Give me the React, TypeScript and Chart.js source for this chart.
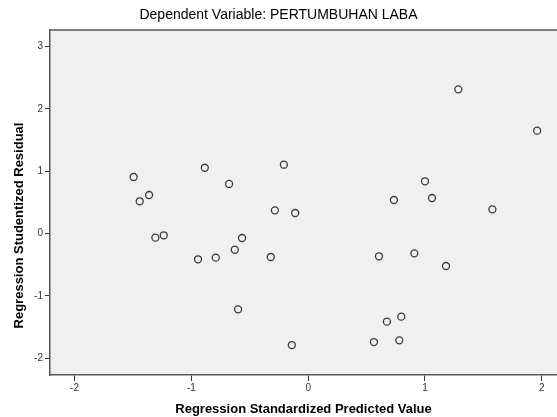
import { useEffect, useRef } from "react";
import { Chart, registerables } from "chart.js";

Chart.register(...registerables);

const chartTitle = "Dependent Variable: PERTUMBUHAN LABA";
const xAxisTitle = "Regression Standardized Predicted Value";
const yAxisTitle = "Regression Studentized Residual";

const predicted = [
  -1.494, -0.885, -0.208, -0.677, -1.362, -1.442, -0.285, -0.111, -1.308, -1.236,
  -0.566, -0.628, -0.943, -0.791, -0.32, -0.6, -0.14,
  1.285, 1.96, 1.0, 1.06, 0.734, 1.577, 0.606, 0.909, 1.18, 0.797, 0.674, 0.563, 0.78,
];
const residual = [
  0.907, 1.055, 1.104, 0.795, 0.618, 0.517, 0.372, 0.329, -0.067, -0.029,
  -0.072, -0.26, -0.414, -0.388, -0.377, -1.217, -1.79,
  2.314, 1.65, 0.838, 0.57, 0.538, 0.388, -0.366, -0.318, -0.522, -1.335, -1.415, -1.742, -1.715,
];

const xMin = -2.21;
const xMax = 2.13;
const yMin = -2.271;
const yMax = 3.266;

const FONT = "'Liberation Sans', Arial, sans-serif";

const framePlugin = {
  id: "frame",
  beforeDraw(chart: any) {
    const { ctx, chartArea } = chart;
    ctx.save();
    ctx.fillStyle = "#f0f0f0";
    ctx.fillRect(chartArea.left, chartArea.top, chartArea.right - chartArea.left, chartArea.bottom - chartArea.top);
    ctx.restore();
  },
  afterDraw(chart: any) {
    const { ctx, chartArea } = chart;
    ctx.save();
    ctx.strokeStyle = "#555";
    ctx.lineWidth = 1.5;
    ctx.beginPath();
    ctx.moveTo(chartArea.left, chartArea.top);
    ctx.lineTo(chartArea.right, chartArea.top);
    ctx.stroke();
    ctx.translate(19, (chartArea.top + chartArea.bottom) / 2 + 23);
    ctx.rotate(-Math.PI / 2);
    ctx.fillStyle = "#000";
    ctx.font = "bold 13px " + FONT;
    ctx.textAlign = "center";
    ctx.textBaseline = "middle";
    ctx.fillText(yAxisTitle, 0, 0);
    ctx.restore();
  },
};

export default function App() {
  const ref = useRef<HTMLCanvasElement>(null);
  useEffect(() => {
    if (!ref.current) return;
    const chart = new Chart(ref.current, {
      type: "scatter",
      data: {
        datasets: [
          {
            data: predicted.map((x, i) => ({ x, y: residual[i] })),
            pointRadius: 3.5,
            pointBorderWidth: 1.3,
            pointBorderColor: "#3a3a3a",
            pointBackgroundColor: "rgba(0,0,0,0)",
          },
        ],
      },
      options: {
        animation: false,
        responsive: false,
        layout: { padding: 0, autoPadding: false },
        plugins: {
          legend: { display: false },
          tooltip: { enabled: false },
          title: {
            display: true,
            text: chartTitle,
            color: "#000",
            font: { family: FONT, size: 14, weight: "normal" },
            padding: { top: 7, bottom: 6.2 },
          },
        },
        scales: {
          x: {
            type: "linear",
            min: xMin,
            max: xMax,
            afterFit: (s: any) => {
              s.height = 42;
              s.paddingLeft = 0;
              s.paddingRight = 0;
            },
            ticks: {
              stepSize: 1,
              includeBounds: false,
              color: "#333",
              padding: 1,
              font: { family: FONT, size: 10 },
            },
            grid: { display: true, drawOnChartArea: false, drawTicks: true, tickLength: 6, color: "#333" },
            border: { display: true, color: "#555", width: 1.5 },
            title: {
              display: true,
              text: xAxisTitle,
              color: "#000",
              font: { family: FONT, size: 13, weight: "bold" },
              padding: { top: 0, bottom: 0 },
            },
          },
          y: {
            type: "linear",
            min: yMin,
            max: yMax,
            afterFit: (s: any) => {
              s.width = 50;
              s.paddingTop = 0;
              s.paddingBottom = 0;
            },
            ticks: {
              stepSize: 1,
              includeBounds: false,
              color: "#333",
              padding: 2,
              font: { family: FONT, size: 10 },
            },
            grid: { display: true, drawOnChartArea: false, drawTicks: true, tickLength: 5, color: "#333" },
            border: { display: true, color: "#555", width: 1.5 },
          },
        },
      },
      plugins: [framePlugin],
    });
    return () => chart.destroy();
  }, []);
  return (
    <div style={{ position: "fixed", left: 0, top: 0, width: 557, height: 417, background: "#fff" }}>
      <canvas ref={ref} width={557} height={417} style={{ width: 557, height: 417 }} />
    </div>
  );
}
